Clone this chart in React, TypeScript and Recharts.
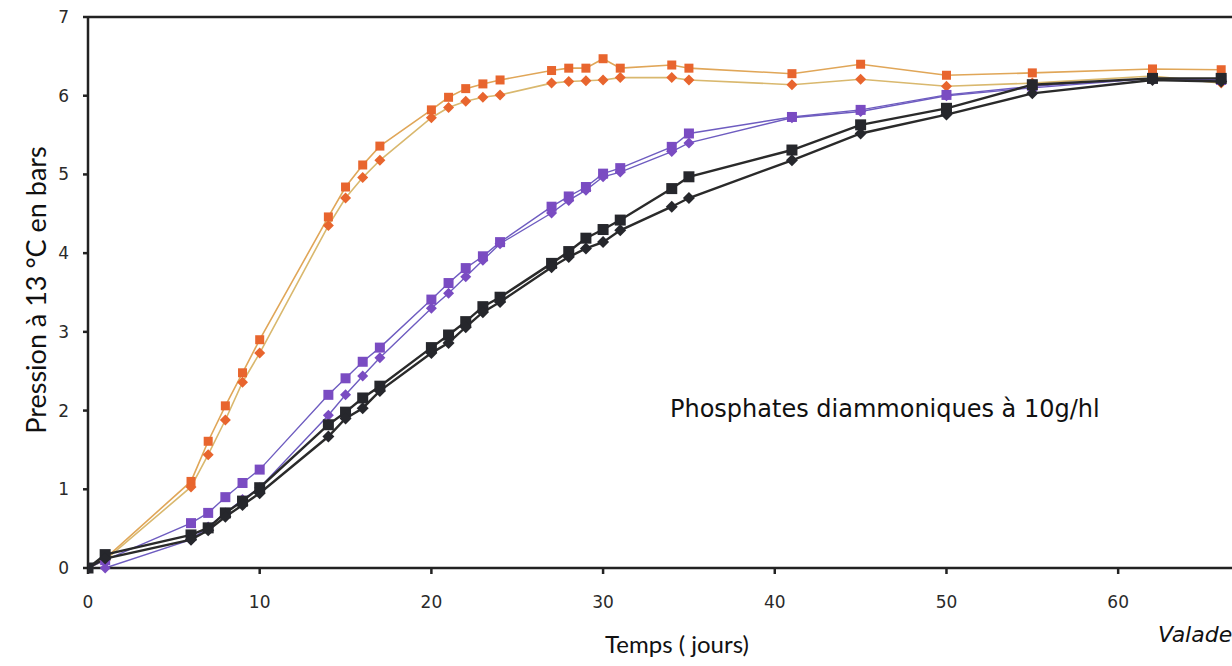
import React from 'react';
import { LineChart, Line, XAxis, YAxis, ReferenceLine } from 'recharts';

const days = [0, 1, 6, 7, 8, 9, 10, 14, 15, 16, 17, 20, 21, 22, 23, 24, 27, 28, 29, 30, 31, 34, 35, 41, 45, 50, 55, 62, 66];
const orangeSq = [0, 0.12, 1.1, 1.61, 2.06, 2.48, 2.9, 4.46, 4.84, 5.12, 5.36, 5.82, 5.98, 6.09, 6.15, 6.2, 6.32, 6.35, 6.35, 6.47, 6.35, 6.39, 6.35, 6.28, 6.4, 6.26, 6.29, 6.34, 6.33];
const orangeDi = [0, 0.1, 1.03, 1.44, 1.88, 2.36, 2.73, 4.35, 4.7, 4.96, 5.18, 5.72, 5.85, 5.93, 5.98, 6.01, 6.16, 6.18, 6.19, 6.2, 6.23, 6.23, 6.2, 6.14, 6.21, 6.12, 6.16, 6.25, 6.16];
const purpleSq = [0, 0.1, 0.57, 0.7, 0.9, 1.08, 1.25, 2.2, 2.41, 2.62, 2.8, 3.41, 3.62, 3.81, 3.96, 4.14, 4.59, 4.72, 4.84, 5.01, 5.08, 5.35, 5.52, 5.73, 5.82, 6.01, 6.12, 6.22, 6.2];
const purpleDi = [0, 0, 0.36, 0.52, 0.7, 0.87, 1.02, 1.94, 2.2, 2.44, 2.67, 3.3, 3.49, 3.7, 3.91, 4.12, 4.51, 4.67, 4.8, 4.97, 5.03, 5.29, 5.4, 5.72, 5.8, 6.0, 6.1, 6.22, 6.2];
const blackSq = [0, 0.17, 0.42, 0.51, 0.7, 0.85, 1.02, 1.82, 1.98, 2.16, 2.31, 2.8, 2.96, 3.13, 3.32, 3.44, 3.87, 4.02, 4.19, 4.3, 4.42, 4.82, 4.97, 5.31, 5.63, 5.84, 6.14, 6.22, 6.22];
const blackDi = [0, 0.12, 0.36, 0.48, 0.65, 0.8, 0.95, 1.67, 1.9, 2.03, 2.25, 2.73, 2.86, 3.06, 3.25, 3.38, 3.82, 3.95, 4.06, 4.14, 4.29, 4.59, 4.7, 5.18, 5.52, 5.76, 6.03, 6.2, 6.18];

const xTicks = [0, 10, 20, 30, 40, 50, 60];
const yTicks = [0, 1, 2, 3, 4, 5, 6, 7];

const data = days.map((d, i) => ({
  day: d,
  oSq: orangeSq[i],
  oDi: orangeDi[i],
  pSq: purpleSq[i],
  pDi: purpleDi[i],
  bSq: blackSq[i],
  bDi: blackDi[i],
}));

const squareDot = (color: string, size: number) => (props: any) => {
  const { cx, cy, index } = props;
  if (cx == null || cy == null) return <g key={index} />;
  return <rect key={index} x={cx - size / 2} y={cy - size / 2} width={size} height={size} fill={color} />;
};

const diamondDot = (color: string, size: number) => (props: any) => {
  const { cx, cy, index } = props;
  if (cx == null || cy == null) return <g key={index} />;
  const h = size / 2;
  return (
    <polygon
      key={index}
      points={`${cx},${cy - h} ${cx + h},${cy} ${cx},${cy + h} ${cx - h},${cy}`}
      fill={color}
    />
  );
};

const ORANGE = '#E8652E';
const PURPLE = '#7A4CC2';
const BLACK = '#26272C';

const tickStyle = { fill: '#2a2a2a', fontSize: 17, fontFamily: 'DejaVu Sans' };

export default function App() {
  return (
    <div style={{ position: 'absolute', left: 0, top: 0, width: 1232, height: 666, background: '#fff', overflow: 'hidden' }}>
      <LineChart
        width={1232}
        height={666}
        data={data}
        margin={{ top: 17, right: 0, bottom: 0, left: 0 }}
      >
        <XAxis
          dataKey="day"
          type="number"
          domain={[0, 66.63]}
          ticks={xTicks}
          allowDataOverflow
          height={98}
          stroke="#222"
          strokeWidth={2.5}
          tickSize={6}
          tickMargin={22}
          tick={tickStyle}
        />
        <YAxis
          type="number"
          domain={[0, 7]}
          ticks={yTicks}
          width={88}
          stroke="#222"
          strokeWidth={2.5}
          tickSize={5}
          tickMargin={14}
          tick={tickStyle}
        />
        <ReferenceLine y={7} stroke="#222" strokeWidth={2.5} ifOverflow="extendDomain" />
        <Line type="linear" dataKey="oSq" stroke="#E0A658" strokeWidth={1.6} dot={squareDot(ORANGE, 9)} isAnimationActive={false} />
        <Line type="linear" dataKey="oDi" stroke="#D9B86E" strokeWidth={1.6} dot={diamondDot(ORANGE, 11)} isAnimationActive={false} />
        <Line type="linear" dataKey="pSq" stroke="#6E5CC0" strokeWidth={1.4} dot={squareDot(PURPLE, 10)} isAnimationActive={false} />
        <Line type="linear" dataKey="pDi" stroke="#6E5CC0" strokeWidth={1.4} dot={diamondDot(PURPLE, 11)} isAnimationActive={false} />
        <Line type="linear" dataKey="bSq" stroke="#2a2a2a" strokeWidth={2.4} dot={squareDot(BLACK, 11)} isAnimationActive={false} />
        <Line type="linear" dataKey="bDi" stroke="#2a2a2a" strokeWidth={2.4} dot={diamondDot(BLACK, 12)} isAnimationActive={false} />
      </LineChart>
      <div
        style={{
          position: 'absolute',
          left: 35,
          top: 290,
          transform: 'translate(-50%, -50%) rotate(-90deg)',
          whiteSpace: 'nowrap',
          fontFamily: 'Lato',
          fontSize: 27,
          color: '#111',
        }}
      >
        Pression à 13 °C en bars
      </div>
      <div
        style={{
          position: 'absolute',
          left: 677,
          top: 643,
          transform: 'translate(-50%, -50%)',
          whiteSpace: 'nowrap',
          fontFamily: 'Lato',
          fontSize: 24,
          color: '#111',
        }}
      >
        Temps ( jours)
      </div>
      <div
        style={{
          position: 'absolute',
          left: 670,
          top: 395,
          whiteSpace: 'nowrap',
          fontFamily: 'DejaVu Sans',
          fontSize: 24,
          color: '#111',
        }}
      >
        Phosphates diammoniques à 10g/hl
      </div>
      <div
        style={{
          position: 'absolute',
          left: 1158,
          top: 622,
          whiteSpace: 'nowrap',
          fontFamily: 'DejaVu Sans',
          fontStyle: 'italic',
          fontSize: 22,
          color: '#111',
        }}
      >
        Valade
      </div>
    </div>
  );
}
